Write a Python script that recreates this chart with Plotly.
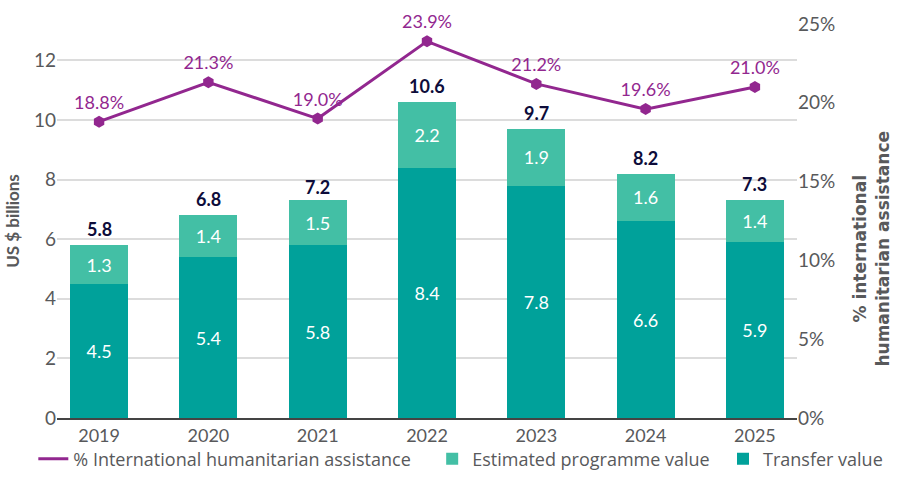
import plotly.graph_objects as go

years = ["2019", "2020", "2021", "2022", "2023", "2024", "2025"]
transfer = [4.5, 5.4, 5.8, 8.4, 7.8, 6.6, 5.9]
programme = [1.3, 1.4, 1.5, 2.2, 1.9, 1.6, 1.4]
totals = [5.8, 6.8, 7.2, 10.6, 9.7, 8.2, 7.3]
pct_iha = [18.8, 21.3, 19.0, 23.9, 21.2, 19.6, 21.0]
pct_ticks = [0, 5, 10, 15, 20, 25]

FONT = "Lato"
GRAY = "#58595b"
TEAL = "#00a19a"
LTEAL = "#43bfa5"
PURPLE = "#92278f"
NAVY = "#0d0c3a"

fig = go.Figure()

fig.add_trace(go.Bar(
    x=years, y=transfer, name="Transfer value", marker_color=TEAL,
    marker_line_width=0, text=[f"{v:.1f}" for v in transfer],
    textposition="inside", insidetextanchor="middle", textangle=0,
    textfont=dict(color="white", size=18, family=FONT),
    legend="legend3", width=0.53,
))
fig.add_trace(go.Bar(
    x=years, y=programme, name="Estimated programme value", marker_color=LTEAL,
    marker_line_width=0, text=[f"{v:.1f}" for v in programme],
    textposition="inside", insidetextanchor="middle", textangle=0,
    textfont=dict(color="white", size=18, family=FONT),
    legend="legend2", width=0.53,
))
fig.add_trace(go.Scatter(
    x=years, y=pct_iha, yaxis="y2", mode="lines+markers+text",
    name="% International humanitarian assistance", showlegend=False,
    line=dict(color=PURPLE, width=3), marker=dict(symbol="hexagon", size=12, color=PURPLE),
    text=[f"{v:.1f}%" for v in pct_iha], textposition="top center", cliponaxis=False,
    textfont=dict(color=PURPLE, size=18, family=FONT),
))
# legend-only entry (line without marker)
fig.add_trace(go.Scatter(
    x=[None], y=[None], yaxis="y2", mode="lines",
    name="% International humanitarian assistance",
    line=dict(color=PURPLE, width=3), legend="legend",
))

# total labels above each stacked bar (category index positions)
for i, t in enumerate(totals):
    fig.add_annotation(x=i, y=t, xref="x", yref="y", text=f"<b>{t:.1f}</b>", showarrow=False,
                       yanchor="bottom", yshift=3,
                       font=dict(color=NAVY, size=18, family=FONT))

fig.add_annotation(x=1.100, y=0.43, xref="paper", yref="paper", xanchor="center", yanchor="middle",
                   text="<b>% international<br>humanitarian assistance</b>", textangle=-90,
                   showarrow=False, font=dict(size=17, color=GRAY, family="DejaVu Sans"))

leg_common = dict(orientation="h", xanchor="left", y=-0.0575, yanchor="top",
                  font=dict(size=18, color=GRAY, family="Open Sans"), itemwidth=30,
                  bgcolor="rgba(0,0,0,0)")

fig.update_layout(
    width=900, height=504,
    margin=dict(l=55, r=97, t=18, b=86),
    paper_bgcolor="white", plot_bgcolor="white",
    barmode="stack",
    font=dict(family=FONT, color=GRAY, size=17),
    xaxis=dict(type="category", range=[-0.385, 6.385], showline=True, linecolor="#444", linewidth=2,
               ticks="", tickfont=dict(size=18, color=GRAY)),
    yaxis=dict(range=[0, 13.22], tickvals=[0, 2, 4, 6, 8, 10, 12], gridcolor="#dcdcdc",
               gridwidth=1.5, zeroline=False, tickfont=dict(size=19, color=GRAY),
               title=dict(text="<b>US $ billions</b>", font=dict(size=17, color=GRAY), standoff=10)),
    yaxis2=dict(range=[0, 25], overlaying="y", side="right", tickvals=pct_ticks,
                ticktext=[f"{v}%" for v in pct_ticks],
                showgrid=False, zeroline=False, tickfont=dict(size=19, color=GRAY)),
    legend=dict(x=-0.032, **leg_common),
    legend2=dict(x=0.507, **leg_common),
    legend3=dict(x=0.900, **leg_common),
    showlegend=True,
)

fig.write_html("out.html")
